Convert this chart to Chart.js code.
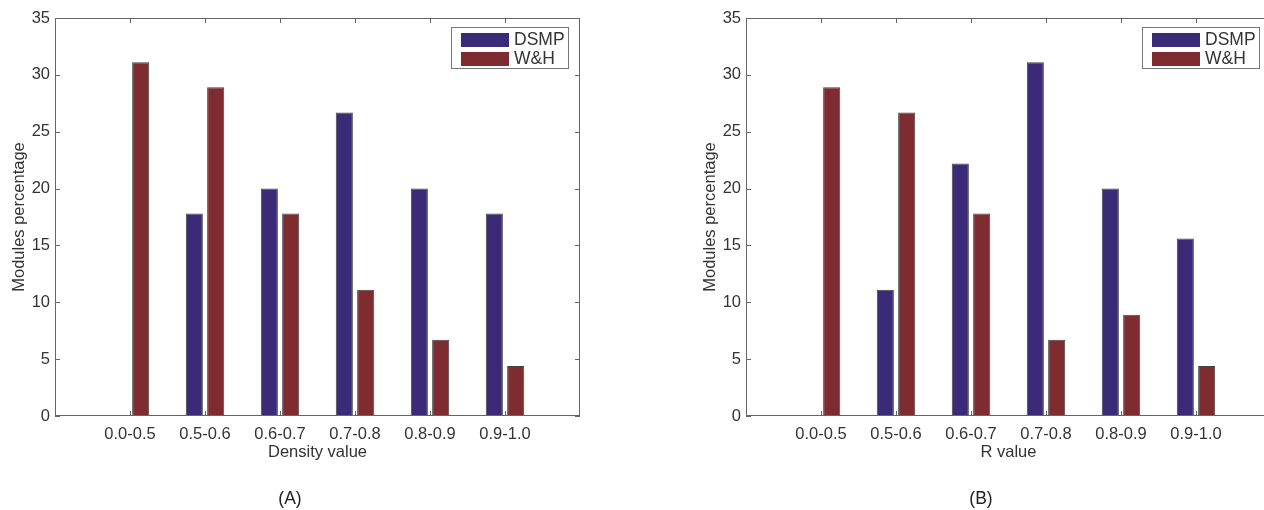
<!DOCTYPE html>
<html>
<head>
<meta charset="utf-8">
<title>Modules percentage</title>
<script src="https://cdn.jsdelivr.net/npm/chart.js@4.4.1/dist/chart.umd.min.js"></script>
<style>
  html, body { margin: 0; padding: 0; background: #fff; overflow: hidden; }
  body { width: 1264px; height: 510px; position: relative; }
  canvas { position: absolute; top: 0; }
  #chartA { left: 0; }
  #chartB { left: 691px; }
</style>
</head>
<body>
<canvas id="chartA" width="600" height="510"></canvas>
<canvas id="chartB" width="600" height="510"></canvas>
<script>
// value ranges on the x axis
const ranges = ['0.0-0.5', '0.5-0.6', '0.6-0.7', '0.7-0.8', '0.8-0.9', '0.9-1.0'];
const seriesNames = ['DSMP', 'W&H'];

// (A) density value
const dsmpDensity = [0, 17.8, 20.0, 26.7, 20.0, 17.8];
const whDensity = [31.1, 28.9, 17.8, 11.1, 6.7, 4.4];

// (B) R value
const dsmpR = [0, 11.1, 22.2, 31.1, 20.0, 15.6];
const whR = [28.9, 26.7, 17.8, 6.7, 8.9, 4.4];

const yMin = 0, yMax = 35, yStep = 5;

const colors = ['#3a2a78', '#7f2c31'];
const fontFamily = '"Liberation Sans", Arial, Helvetica, sans-serif';
const textColor = '#333';

// matlab style box, inward ticks and boxed legend
const matlabFrame = {
  id: 'matlabFrame',
  afterDatasetsDraw(chart) {
    const {ctx, chartArea: a, scales: {x, y}} = chart;
    const tl = 5;
    ctx.save();
    ctx.strokeStyle = '#666';
    ctx.lineWidth = 1;
    ctx.beginPath();
    x.ticks.forEach((t, i) => {
      if (!t.label) return;
      const px = Math.round(x.getPixelForTick(i)) + 0.5;
      ctx.moveTo(px, a.bottom); ctx.lineTo(px, a.bottom - tl);
      ctx.moveTo(px, a.top); ctx.lineTo(px, a.top + tl);
    });
    y.ticks.forEach((t, i) => {
      const py = Math.round(y.getPixelForTick(i)) + 0.5;
      ctx.moveTo(a.left, py); ctx.lineTo(a.left + tl, py);
      ctx.moveTo(a.right, py); ctx.lineTo(a.right - tl, py);
    });
    ctx.stroke();
    ctx.strokeRect(Math.round(a.left) + 0.5, Math.round(a.top) + 0.5,
      Math.round(a.width) - 1, Math.round(a.height) - 1);

    // legend
    const bx = Math.round(a.left) + 396, by = Math.round(a.top) + 9;
    const bw = 117, bh = 41;
    ctx.fillStyle = '#fff';
    ctx.fillRect(bx, by, bw, bh);
    ctx.strokeStyle = '#777';
    ctx.strokeRect(bx + 0.5, by + 0.5, bw, bh);
    ctx.font = '17.5px ' + fontFamily;
    ctx.textBaseline = 'middle';
    chart.data.datasets.forEach((ds, i) => {
      const py = by + 6 + i * 19;
      ctx.fillStyle = ds.backgroundColor;
      ctx.fillRect(bx + 10, py, 48, 14);
      ctx.fillStyle = textColor;
      ctx.fillText(ds.label, bx + 63, py + 7.5);
    });
    ctx.restore();
  }
};

function makeChart(id, dsmp, wh, xTitle, panel) {
  const labels = ['', ...ranges, ''];
  const pad = arr => [null, ...arr, null];
  return new Chart(document.getElementById(id), {
    type: 'bar',
    data: {
      labels: labels,
      datasets: [
        { label: seriesNames[0], data: pad(dsmp), backgroundColor: colors[0] },
        { label: seriesNames[1], data: pad(wh), backgroundColor: colors[1] }
      ]
    },
    plugins: [matlabFrame],
    options: {
      responsive: false,
      animation: false,
      devicePixelRatio: 1,
      layout: { padding: { left: 0, right: 20, top: 18, bottom: 0 } },
      datasets: {
        bar: {
          categoryPercentage: 0.57,
          barPercentage: 0.8,
          borderColor: '#444',
          borderWidth: 1,
          borderSkipped: false
        }
      },
      plugins: {
        legend: { display: false },
        tooltip: { enabled: false },
        title: {
          display: true,
          position: 'bottom',
          text: panel,
          color: '#222',
          font: { family: fontFamily, size: 17.5, weight: 'normal' },
          padding: { top: 23, bottom: 0 }
        }
      },
      scales: {
        x: {
          offset: false,
          grid: { display: false, drawTicks: false, tickLength: 0 },
          border: { display: false },
          ticks: {
            color: textColor, padding: 9, maxRotation: 0, autoSkip: false,
            font: { family: fontFamily, size: 16.5 }
          },
          title: {
            display: true, text: xTitle, color: textColor,
            font: { family: fontFamily, size: 16.5 },
            padding: { top: 0, bottom: 4 }
          },
          afterFit(scale) { scale.height = 50; }
        },
        y: {
          min: yMin, max: yMax,
          grid: { display: false, drawTicks: false, tickLength: 0 },
          border: { display: false },
          ticks: {
            stepSize: yStep, color: textColor, padding: 5,
            font: { family: fontFamily, size: 16.5 }
          },
          title: {
            display: true, text: 'Modules percentage', color: textColor,
            font: { family: fontFamily, size: 16.5 },
            padding: { top: 10, bottom: 0 }
          },
          afterFit(scale) { scale.width = 55; }
        }
      }
    }
  });
}

makeChart('chartA', dsmpDensity, whDensity, 'Density value', '(A)');
makeChart('chartB', dsmpR, whR, 'R value', '(B)');
</script>
</body>
</html>
